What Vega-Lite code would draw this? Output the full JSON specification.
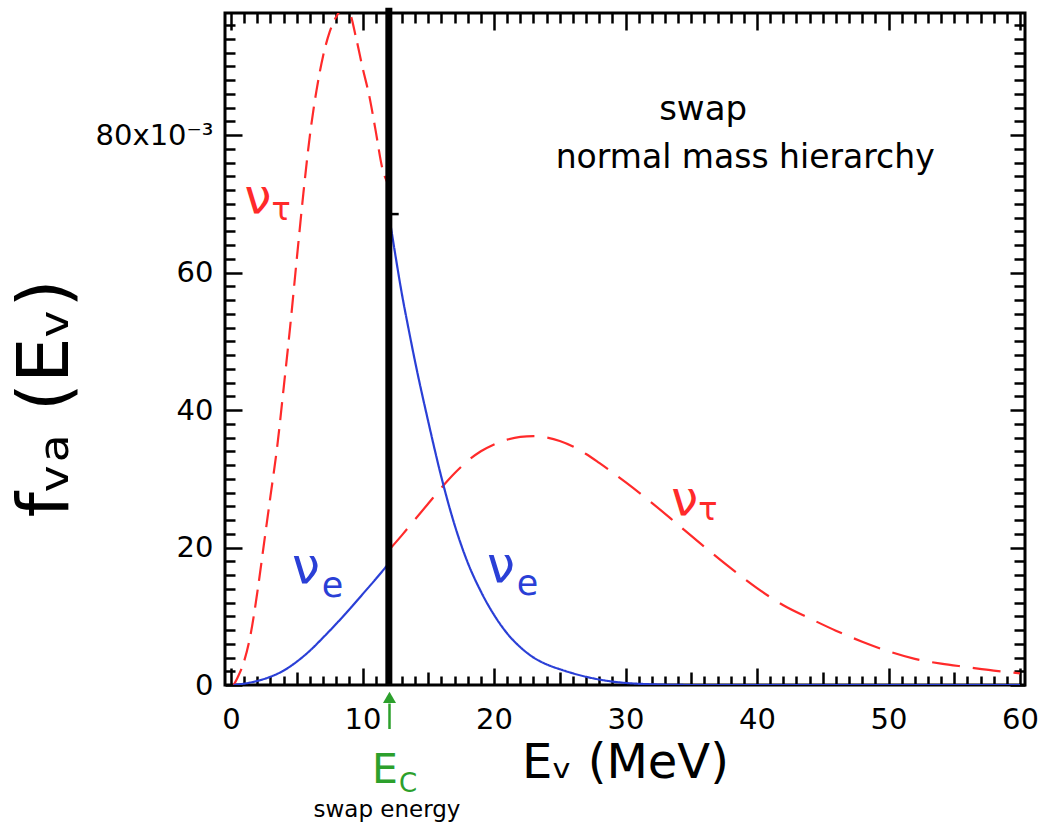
{
  "$schema": "https://vega.github.io/schema/vega-lite/v6.json",
  "autosize": {"type": "none"},
  "padding": {"left": 225, "top": 13, "right": 20, "bottom": 142},
  "width": 800,
  "height": 672,
  "background": "white",
  "config": {
    "view": {"stroke": "black", "strokeWidth": 3},
    "axis": {
      "domain": false,
      "grid": false,
      "tickColor": "black",
      "tickWidth": 2.5,
      "labelFont": "DejaVu Sans",
      "labelFontSize": 29,
      "labelColor": "black",
      "labelOverlap": false,
      "labelFlush": false,
      "labelBound": false,
      "titleFont": "DejaVu Sans",
      "titleFontWeight": "normal",
      "titleColor": "black"
    }
  },
  "resolve": {"axis": {"x": "independent", "y": "independent"}},
  "layer": [
    {
      "data": {"values": [
        {"E": 0.2, "f": 0.0, "seg": "tau_low"},
        {"E": 0.5, "f": 0.0011, "seg": "tau_low"},
        {"E": 1.0, "f": 0.0035, "seg": "tau_low"},
        {"E": 1.5, "f": 0.0075, "seg": "tau_low"},
        {"E": 2.0, "f": 0.0135, "seg": "tau_low"},
        {"E": 2.5, "f": 0.0205, "seg": "tau_low"},
        {"E": 3.0, "f": 0.0275, "seg": "tau_low"},
        {"E": 3.5, "f": 0.0345, "seg": "tau_low"},
        {"E": 4.0, "f": 0.0432, "seg": "tau_low"},
        {"E": 4.5, "f": 0.0522, "seg": "tau_low"},
        {"E": 5.0, "f": 0.0620, "seg": "tau_low"},
        {"E": 5.5, "f": 0.0715, "seg": "tau_low"},
        {"E": 6.0, "f": 0.0800, "seg": "tau_low"},
        {"E": 6.5, "f": 0.0865, "seg": "tau_low"},
        {"E": 7.0, "f": 0.0915, "seg": "tau_low"},
        {"E": 7.5, "f": 0.0950, "seg": "tau_low"},
        {"E": 8.0, "f": 0.0972, "seg": "tau_low"},
        {"E": 8.5, "f": 0.0984, "seg": "tau_low"},
        {"E": 9.0, "f": 0.0978, "seg": "tau_low"},
        {"E": 9.5, "f": 0.0942, "seg": "tau_low"},
        {"E": 10.0, "f": 0.0898, "seg": "tau_low"},
        {"E": 10.5, "f": 0.0858, "seg": "tau_low"},
        {"E": 11.0, "f": 0.0806, "seg": "tau_low"},
        {"E": 11.5, "f": 0.0752, "seg": "tau_low"},
        {"E": 12.0, "f": 0.0727, "seg": "tau_low"},
        {"E": 12.0, "f": 0.0196, "seg": "tau_high"},
        {"E": 13.0, "f": 0.0218, "seg": "tau_high"},
        {"E": 14.0, "f": 0.0241, "seg": "tau_high"},
        {"E": 15.0, "f": 0.0264, "seg": "tau_high"},
        {"E": 16.0, "f": 0.0287, "seg": "tau_high"},
        {"E": 17.0, "f": 0.0308, "seg": "tau_high"},
        {"E": 18.0, "f": 0.0326, "seg": "tau_high"},
        {"E": 19.0, "f": 0.0340, "seg": "tau_high"},
        {"E": 20.0, "f": 0.0350, "seg": "tau_high"},
        {"E": 21.0, "f": 0.0357, "seg": "tau_high"},
        {"E": 22.0, "f": 0.0361, "seg": "tau_high"},
        {"E": 23.0, "f": 0.0362, "seg": "tau_high"},
        {"E": 24.0, "f": 0.0360, "seg": "tau_high"},
        {"E": 25.0, "f": 0.0355, "seg": "tau_high"},
        {"E": 26.0, "f": 0.0347, "seg": "tau_high"},
        {"E": 27.0, "f": 0.0336, "seg": "tau_high"},
        {"E": 28.0, "f": 0.0323, "seg": "tau_high"},
        {"E": 30.0, "f": 0.0295, "seg": "tau_high"},
        {"E": 32.0, "f": 0.0265, "seg": "tau_high"},
        {"E": 34.0, "f": 0.0233, "seg": "tau_high"},
        {"E": 36.0, "f": 0.0201, "seg": "tau_high"},
        {"E": 38.0, "f": 0.0170, "seg": "tau_high"},
        {"E": 40.0, "f": 0.0141, "seg": "tau_high"},
        {"E": 42.0, "f": 0.0116, "seg": "tau_high"},
        {"E": 44.0, "f": 0.0097, "seg": "tau_high"},
        {"E": 46.0, "f": 0.0079, "seg": "tau_high"},
        {"E": 48.0, "f": 0.0063, "seg": "tau_high"},
        {"E": 50.0, "f": 0.0049, "seg": "tau_high"},
        {"E": 52.0, "f": 0.0038, "seg": "tau_high"},
        {"E": 54.0, "f": 0.0031, "seg": "tau_high"},
        {"E": 56.0, "f": 0.0026, "seg": "tau_high"},
        {"E": 58.0, "f": 0.0021, "seg": "tau_high"},
        {"E": 60.0, "f": 0.0017, "seg": "tau_high"},
        {"E": 0.2, "f": 0.0, "seg": "e_low"},
        {"E": 1.0, "f": 0.0002, "seg": "e_low"},
        {"E": 2.0, "f": 0.0006, "seg": "e_low"},
        {"E": 3.0, "f": 0.0012, "seg": "e_low"},
        {"E": 4.0, "f": 0.0021, "seg": "e_low"},
        {"E": 5.0, "f": 0.0034, "seg": "e_low"},
        {"E": 6.0, "f": 0.0050, "seg": "e_low"},
        {"E": 7.0, "f": 0.0069, "seg": "e_low"},
        {"E": 8.0, "f": 0.0089, "seg": "e_low"},
        {"E": 9.0, "f": 0.0110, "seg": "e_low"},
        {"E": 10.0, "f": 0.0132, "seg": "e_low"},
        {"E": 11.0, "f": 0.0154, "seg": "e_low"},
        {"E": 12.0, "f": 0.0177, "seg": "e_low"},
        {"E": 12.0, "f": 0.0685, "seg": "e_high"},
        {"E": 12.5, "f": 0.0625, "seg": "e_high"},
        {"E": 13.0, "f": 0.0568, "seg": "e_high"},
        {"E": 13.5, "f": 0.0518, "seg": "e_high"},
        {"E": 14.0, "f": 0.0470, "seg": "e_high"},
        {"E": 15.0, "f": 0.0383, "seg": "e_high"},
        {"E": 16.0, "f": 0.0302, "seg": "e_high"},
        {"E": 17.0, "f": 0.0233, "seg": "e_high"},
        {"E": 18.0, "f": 0.0178, "seg": "e_high"},
        {"E": 19.0, "f": 0.0136, "seg": "e_high"},
        {"E": 20.0, "f": 0.0102, "seg": "e_high"},
        {"E": 21.0, "f": 0.0075, "seg": "e_high"},
        {"E": 22.0, "f": 0.0055, "seg": "e_high"},
        {"E": 23.0, "f": 0.0040, "seg": "e_high"},
        {"E": 24.0, "f": 0.0030, "seg": "e_high"},
        {"E": 25.0, "f": 0.0023, "seg": "e_high"},
        {"E": 26.0, "f": 0.0017, "seg": "e_high"},
        {"E": 27.0, "f": 0.0012, "seg": "e_high"},
        {"E": 28.0, "f": 0.0008, "seg": "e_high"},
        {"E": 29.0, "f": 0.0005, "seg": "e_high"},
        {"E": 30.0, "f": 0.0003, "seg": "e_high"},
        {"E": 32.0, "f": 0.0001, "seg": "e_high"},
        {"E": 35.0, "f": 0.0, "seg": "e_high"},
        {"E": 60.0, "f": 0.0, "seg": "e_high"}
      ]},
      "mark": {"type": "line", "strokeWidth": 2.2, "clip": true, "interpolate": "monotone"},
      "encoding": {
        "x": {
          "field": "E", "type": "quantitative",
          "scale": {"domain": [-0.46, 60.38], "nice": false, "zero": false},
          "axis": {
            "orient": "bottom",
            "values": [0,1,2,3,4,5,6,7,8,9,10,11,12,13,14,15,16,17,18,19,20,21,22,23,24,25,26,27,28,29,30,31,32,33,34,35,36,37,38,39,40,41,42,43,44,45,46,47,48,49,50,51,52,53,54,55,56,57,58,59,60],
            "tickSize": {"expr": "datum.value % 10 === 0 ? -17 : (datum.value % 5 === 0 ? -13 : -9)"},
            "labelExpr": "datum.value % 10 === 0 ? format(datum.value, 'd') : ''",
            "labelPadding": 37,
            "title": "Eᵥ (MeV)",
            "titleFontSize": 48,
            "titleY": 92,
            "titleBaseline": "alphabetic"
          }
        },
        "y": {
          "field": "f", "type": "quantitative",
          "scale": {"domain": [0, 0.09775], "nice": false, "zero": false},
          "axis": {
            "orient": "left",
            "values": [0,0.002,0.004,0.006,0.008,0.01,0.012,0.014,0.016,0.018,0.02,0.022,0.024,0.026,0.028,0.03,0.032,0.034,0.036,0.038,0.04,0.042,0.044,0.046,0.048,0.05,0.052,0.054,0.056,0.058,0.06,0.062,0.064,0.066,0.068,0.07,0.072,0.074,0.076,0.078,0.08,0.082,0.084,0.086,0.088,0.09,0.092,0.094,0.096],
            "tickSize": {"expr": "abs(datum.value*50 - round(datum.value*50)) < 0.000001 ? -17 : -10"},
            "labelExpr": "abs(datum.value*50 - round(datum.value*50)) < 0.000001 ? (abs(datum.value - 0.08) < 0.000001 ? '80x10⁻³' : format(datum.value*1000, 'd')) : ''",
            "labelPadding": 29,
            "title": "fᵥₐ (Eᵥ)",
            "titleFontSize": 72,
            "titleAngle": -90,
            "titleAlign": "center",
            "titleBaseline": "alphabetic",
            "titleX": -158,
            "titleY": 385
          }
        },
        "color": {
          "field": "seg", "type": "nominal",
          "scale": {"domain": ["tau_low", "tau_high", "e_low", "e_high"], "range": ["#ff2a2a", "#ff2a2a", "#2a3fd6", "#2a3fd6"]},
          "legend": null
        },
        "strokeDash": {
          "field": "seg", "type": "nominal",
          "scale": {"domain": ["tau_low", "tau_high", "e_low", "e_high"], "range": [[18, 9], [28, 13], [1, 0], [1, 0]]},
          "legend": null
        }
      }
    },
    {
      "data": {"values": [{}]},
      "mark": {"type": "rule", "color": "black", "strokeWidth": 7},
      "encoding": {
        "x": {
          "datum": 12, "type": "quantitative",
          "axis": {
            "orient": "top",
            "values": [0,1,2,3,4,5,6,7,8,9,10,11,12,13,14,15,16,17,18,19,20,21,22,23,24,25,26,27,28,29,30,31,32,33,34,35,36,37,38,39,40,41,42,43,44,45,46,47,48,49,50,51,52,53,54,55,56,57,58,59,60],
            "tickSize": {"expr": "datum.value % 10 === 0 ? -17 : -10"},
            "labels": false,
            "title": null
          }
        },
        "y": {
          "datum": 0, "type": "quantitative",
          "axis": {
            "orient": "right",
            "values": [0,0.002,0.004,0.006,0.008,0.01,0.012,0.014,0.016,0.018,0.02,0.022,0.024,0.026,0.028,0.03,0.032,0.034,0.036,0.038,0.04,0.042,0.044,0.046,0.048,0.05,0.052,0.054,0.056,0.058,0.06,0.062,0.064,0.066,0.068,0.07,0.072,0.074,0.076,0.078,0.08,0.082,0.084,0.086,0.088,0.09,0.092,0.094,0.096],
            "tickSize": {"expr": "abs(datum.value*50 - round(datum.value*50)) < 0.000001 ? -15 : -11"},
            "labels": false,
            "title": null
          }
        },
        "y2": {"datum": 0.0985}
      }
    },
    {
      "data": {"values": [{}]},
      "mark": {"type": "rule", "color": "black", "strokeWidth": 2.5},
      "encoding": {
        "x": {"datum": 12, "type": "quantitative", "axis": null},
        "x2": {"datum": 12.75},
        "y": {"datum": 0.0685, "type": "quantitative", "axis": null}
      }
    },
    {
      "data": {"values": [{}]},
      "mark": {"type": "rule", "color": "#2ca02c", "strokeWidth": 2.5},
      "encoding": {
        "x": {"datum": 12.05, "type": "quantitative", "axis": null},
        "y": {"datum": -0.0027, "type": "quantitative", "axis": null},
        "y2": {"datum": -0.0064}
      }
    },
    {
      "data": {"values": [{}]},
      "mark": {"type": "point", "shape": "triangle-up", "filled": true, "color": "#2ca02c", "size": 170, "opacity": 1},
      "encoding": {
        "x": {"datum": 12.05, "type": "quantitative", "axis": null},
        "y": {"datum": -0.0018, "type": "quantitative", "axis": null}
      }
    },
    {
      "data": {"values": [{}]},
      "mark": {"type": "text", "text": "E", "font": "DejaVu Sans", "fontSize": 41, "color": "#2ca02c", "align": "center", "baseline": "alphabetic"},
      "encoding": {
        "x": {"datum": 11.71, "type": "quantitative", "axis": null},
        "y": {"datum": -0.01425, "type": "quantitative", "axis": null}
      }
    },
    {
      "data": {"values": [{}]},
      "mark": {"type": "text", "text": "C", "font": "DejaVu Sans", "fontSize": 26, "color": "#2ca02c", "align": "center", "baseline": "alphabetic"},
      "encoding": {
        "x": {"datum": 13.46, "type": "quantitative", "axis": null},
        "y": {"datum": -0.01556, "type": "quantitative", "axis": null}
      }
    },
    {
      "data": {"values": [{}]},
      "mark": {"type": "text", "text": "swap energy", "font": "DejaVu Sans", "fontSize": 23, "color": "black", "align": "center", "baseline": "alphabetic"},
      "encoding": {
        "x": {"datum": 11.86, "type": "quantitative", "axis": null},
        "y": {"datum": -0.0192, "type": "quantitative", "axis": null}
      }
    },
    {
      "data": {"values": [{}]},
      "mark": {"type": "text", "text": "swap", "font": "DejaVu Sans", "fontSize": 34, "color": "black", "align": "center", "baseline": "alphabetic"},
      "encoding": {
        "x": {"datum": 35.9, "type": "quantitative", "axis": null},
        "y": {"datum": 0.0822, "type": "quantitative", "axis": null}
      }
    },
    {
      "data": {"values": [{}]},
      "mark": {"type": "text", "text": "normal mass hierarchy", "font": "DejaVu Sans", "fontSize": 33, "color": "black", "align": "center", "baseline": "alphabetic"},
      "encoding": {
        "x": {"datum": 39.1, "type": "quantitative", "axis": null},
        "y": {"datum": 0.0752, "type": "quantitative", "axis": null}
      }
    },
    {
      "data": {"values": [{}]},
      "mark": {"type": "text", "text": "ν", "font": "DejaVu Sans", "fontSize": 48, "color": "#ff2a2a", "align": "center", "baseline": "alphabetic"},
      "encoding": {
        "x": {"datum": 2.05, "type": "quantitative", "axis": null},
        "y": {"datum": 0.0687, "type": "quantitative", "axis": null}
      }
    },
    {
      "data": {"values": [{}]},
      "mark": {"type": "text", "text": "τ", "font": "DejaVu Sans", "fontSize": 32, "color": "#ff2a2a", "align": "center", "baseline": "alphabetic"},
      "encoding": {
        "x": {"datum": 3.8, "type": "quantitative", "axis": null},
        "y": {"datum": 0.0676, "type": "quantitative", "axis": null}
      }
    },
    {
      "data": {"values": [{}]},
      "mark": {"type": "text", "text": "ν", "font": "DejaVu Sans", "fontSize": 48, "color": "#ff2a2a", "align": "center", "baseline": "alphabetic"},
      "encoding": {
        "x": {"datum": 34.5, "type": "quantitative", "axis": null},
        "y": {"datum": 0.0247, "type": "quantitative", "axis": null}
      }
    },
    {
      "data": {"values": [{}]},
      "mark": {"type": "text", "text": "τ", "font": "DejaVu Sans", "fontSize": 32, "color": "#ff2a2a", "align": "center", "baseline": "alphabetic"},
      "encoding": {
        "x": {"datum": 36.27, "type": "quantitative", "axis": null},
        "y": {"datum": 0.024, "type": "quantitative", "axis": null}
      }
    },
    {
      "data": {"values": [{}]},
      "mark": {"type": "text", "text": "ν", "font": "DejaVu Sans", "fontSize": 50, "color": "#2a3fd6", "align": "center", "baseline": "alphabetic"},
      "encoding": {
        "x": {"datum": 5.7, "type": "quantitative", "axis": null},
        "y": {"datum": 0.0148, "type": "quantitative", "axis": null}
      }
    },
    {
      "data": {"values": [{}]},
      "mark": {"type": "text", "text": "e", "font": "DejaVu Sans", "fontSize": 35, "color": "#2a3fd6", "align": "center", "baseline": "alphabetic"},
      "encoding": {
        "x": {"datum": 7.72, "type": "quantitative", "axis": null},
        "y": {"datum": 0.0128, "type": "quantitative", "axis": null}
      }
    },
    {
      "data": {"values": [{}]},
      "mark": {"type": "text", "text": "ν", "font": "DejaVu Sans", "fontSize": 50, "color": "#2a3fd6", "align": "center", "baseline": "alphabetic"},
      "encoding": {
        "x": {"datum": 20.53, "type": "quantitative", "axis": null},
        "y": {"datum": 0.015, "type": "quantitative", "axis": null}
      }
    },
    {
      "data": {"values": [{}]},
      "mark": {"type": "text", "text": "e", "font": "DejaVu Sans", "fontSize": 35, "color": "#2a3fd6", "align": "center", "baseline": "alphabetic"},
      "encoding": {
        "x": {"datum": 22.55, "type": "quantitative", "axis": null},
        "y": {"datum": 0.0131, "type": "quantitative", "axis": null}
      }
    }
  ]
}
